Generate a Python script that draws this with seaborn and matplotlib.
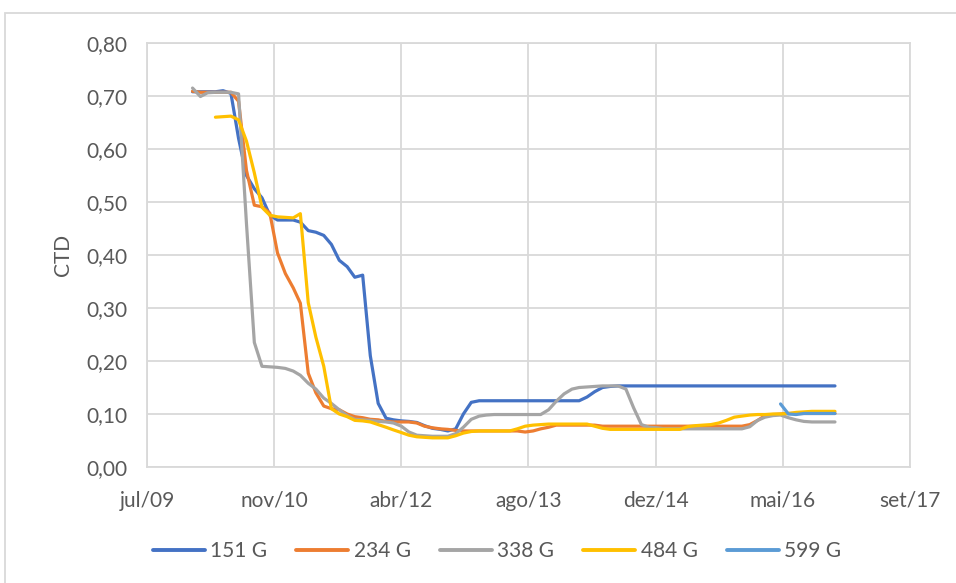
import numpy as np
import pandas as pd
import matplotlib
matplotlib.use('Agg')
import matplotlib.pyplot as plt
import seaborn as sns
from matplotlib.patches import Rectangle
from matplotlib.ticker import FuncFormatter

# monthly readings, jan/2010 .. dez/2016
months = pd.date_range('2010-01-01', '2016-12-01', freq='MS')
series_names = ['151 G', '234 G', '338 G', '484 G', '599 G']
colors = ['#4472C4', '#ED7D31', '#A5A5A5', '#FFC000', '#5B9BD5']

g151 = ([0.708, 0.708, 0.708, 0.708, 0.710, 0.705, 0.620, 0.550, 0.525, 0.508,
         0.475, 0.466, 0.466, 0.466, 0.462, 0.446, 0.443, 0.437, 0.420, 0.390,
         0.378, 0.358, 0.362, 0.210, 0.120, 0.092, 0.089, 0.087, 0.086, 0.084,
         0.078, 0.073, 0.071, 0.068, 0.072, 0.100, 0.122, 0.125]
        + [0.125] * 13
        + [0.132, 0.142, 0.150, 0.152]
        + [0.153] * 29)

g234 = ([0.709, 0.707, 0.707, 0.707, 0.707, 0.707, 0.690, 0.560, 0.494, 0.491,
         0.479, 0.404, 0.365, 0.338, 0.309, 0.177, 0.140, 0.115, 0.110, 0.108,
         0.100, 0.095, 0.093, 0.090, 0.089, 0.086, 0.085, 0.085, 0.085, 0.083,
         0.077, 0.074, 0.072, 0.071, 0.069, 0.068]
        + [0.068] * 7
        + [0.066, 0.068, 0.072, 0.075]
        + [0.079] * 6
        + [0.077]
        + [0.077] * 18
        + [0.080, 0.088, 0.097, 0.099, 0.100]
        + [0.101] * 7)

g338 = ([0.715, 0.699, 0.706, 0.707, 0.707, 0.707, 0.704, 0.460, 0.235, 0.190,
         0.189, 0.188, 0.186, 0.181, 0.173, 0.158, 0.147, 0.130, 0.120, 0.108,
         0.097, 0.090, 0.089, 0.088, 0.086, 0.085, 0.083, 0.077, 0.066, 0.060,
         0.059, 0.058, 0.058, 0.058, 0.063, 0.075, 0.090, 0.096, 0.098]
        + [0.099] * 7
        + [0.108, 0.124, 0.138, 0.147, 0.150, 0.151, 0.152, 0.153, 0.153, 0.153,
           0.147, 0.112, 0.080, 0.075, 0.074]
        + [0.072] * 11
        + [0.076, 0.088, 0.094, 0.097, 0.098, 0.093, 0.089, 0.086]
        + [0.085] * 4)

g484 = ([np.nan] * 3
        + [0.660, 0.661, 0.662, 0.655, 0.615, 0.555, 0.490, 0.475, 0.472, 0.471,
           0.470, 0.478, 0.310, 0.245, 0.190, 0.110, 0.100, 0.095, 0.088, 0.087,
           0.085, 0.080, 0.075, 0.070, 0.065, 0.060, 0.057, 0.056, 0.055, 0.055,
           0.055, 0.059, 0.064, 0.067, 0.068, 0.068, 0.068, 0.068, 0.068, 0.072,
           0.077, 0.079, 0.080]
        + [0.081] * 6
        + [0.077, 0.073, 0.071]
        + [0.071] * 9
        + [0.076, 0.078, 0.079, 0.080, 0.083, 0.088, 0.094, 0.096, 0.098, 0.099,
           0.099, 0.100, 0.100, 0.101, 0.103, 0.104]
        + [0.105] * 4)

g599 = [np.nan] * 76 + [0.119, 0.100, 0.099, 0.101, 0.101, 0.101, 0.101, 0.101]

tick_dates = pd.date_range('2009-07-06', periods=7, freq='500D')
tick_labels = ['jul/09', 'nov/10', 'abr/12', 'ago/13', 'dez/14', 'mai/16', 'set/17']
y_ticks = [0.0, 0.1, 0.2, 0.3, 0.4, 0.5, 0.6, 0.7, 0.8]

wide = pd.DataFrame({'Data': months, '151 G': g151, '234 G': g234,
                     '338 G': g338, '484 G': g484, '599 G': g599})
df = wide.melt(id_vars='Data', var_name='Serie', value_name='CTD').dropna()

sns.set_style('white')
plt.rcParams['font.family'] = ['Lato', 'DejaVu Sans']

text_col = '#595959'
grid_col = '#D9D9D9'

fig = plt.figure(figsize=(9.56, 5.83), dpi=100)
ax = fig.add_axes([147 / 956, 1 - 467 / 583, 763 / 956, 424 / 583])

sns.lineplot(data=df, x='Data', y='CTD', hue='Serie', hue_order=series_names,
             palette=colors, linewidth=2.3, ax=ax)

ax.set_xlim(tick_dates[0], tick_dates[-1])
ax.set_ylim(0, 0.8)
ax.set_xticks(tick_dates)
ax.set_xticklabels(tick_labels)
ax.set_yticks(y_ticks)
ax.yaxis.set_major_formatter(FuncFormatter(lambda v, p: f'{v:.2f}'.replace('.', ',')))
ax.grid(True, color=grid_col, linewidth=1.3)
ax.set_axisbelow(True)
for s in ax.spines.values():
    s.set_color(grid_col)
    s.set_linewidth(1.3)
ax.tick_params(length=0, labelsize=15, labelcolor=text_col)
ax.tick_params(axis='y', pad=14)
ax.tick_params(axis='x', pad=17)
ax.set_xlabel('')
ax.set_ylabel('CTD', fontsize=15, color=text_col, labelpad=10)

sns.move_legend(ax, 'center', bbox_to_anchor=((497 - 147) / 763, (467 - 551) / 424),
                ncol=5, frameon=False, title=None, fontsize=15,
                handlelength=2.5, handletextpad=0.25, columnspacing=1.4)
for line in ax.get_legend().get_lines():
    line.set_linewidth(2.8)
for t in ax.get_legend().get_texts():
    t.set_color(text_col)

fig.patches.append(Rectangle((5 / 956, -0.05), 1.0, 1 - 13 / 583 + 0.05,
                             transform=fig.transFigure, fill=False,
                             edgecolor=grid_col, linewidth=1.3))

fig.savefig('out.png', dpi=100)
